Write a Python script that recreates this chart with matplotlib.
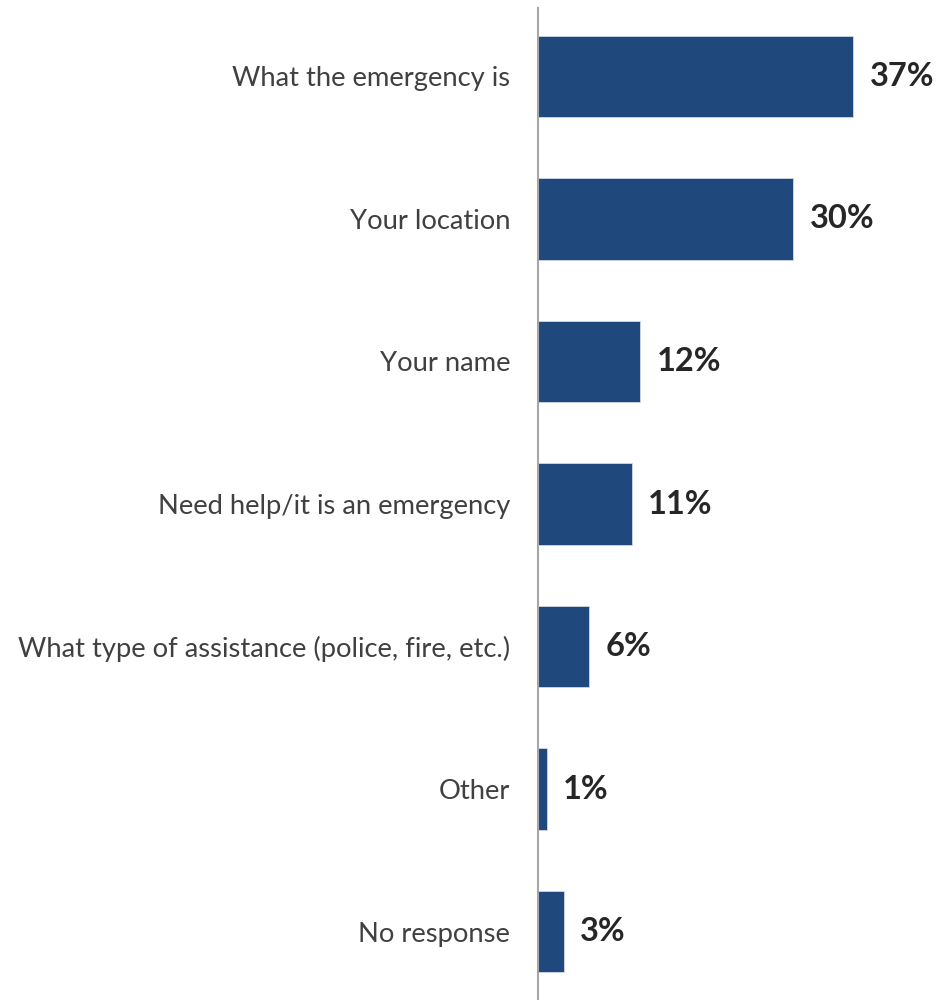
import matplotlib.pyplot as plt
import numpy as np

plt.rcParams['font.family'] = ['Lato', 'DejaVu Sans']

categories = ['What the emergency is', 'Your location', 'Your name',
              'Need help/it is an emergency',
              'What type of assistance (police, fire, etc.)',
              'Other', 'No response']
values = [37, 30, 12, 11, 6, 1, 3]

fig = plt.figure(figsize=(9.41, 10), dpi=100)
ax = fig.add_axes([538 / 941, 0, 1 - 538 / 941, 0.992])

y = np.arange(len(categories))
bars = ax.barh(y, values, height=0.57, color='#1f497d', edgecolor='#d0d8e4', linewidth=0.6)

for b, v in zip(bars, values):
    ax.annotate(f'{v}%', (b.get_width(), b.get_y() + b.get_height() / 2),
                xytext=(12, 0), textcoords='offset points',
                va='center', ha='left', fontsize=23.5, fontweight='bold', color='#262626')

ax.set_xlim(0, 47.35)
ax.set_ylim(6.48, -0.48)
ax.set_yticks(y)
ax.set_yticklabels(categories, fontsize=19.7, color='#404040')
ax.tick_params(axis='y', length=0, pad=20)
ax.set_xticks([])
for s in ['top', 'right', 'bottom']:
    ax.spines[s].set_visible(False)
ax.spines['left'].set_color('#a6a6a6')
ax.spines['left'].set_linewidth(1.5)

fig.savefig('out.png', dpi=100)
